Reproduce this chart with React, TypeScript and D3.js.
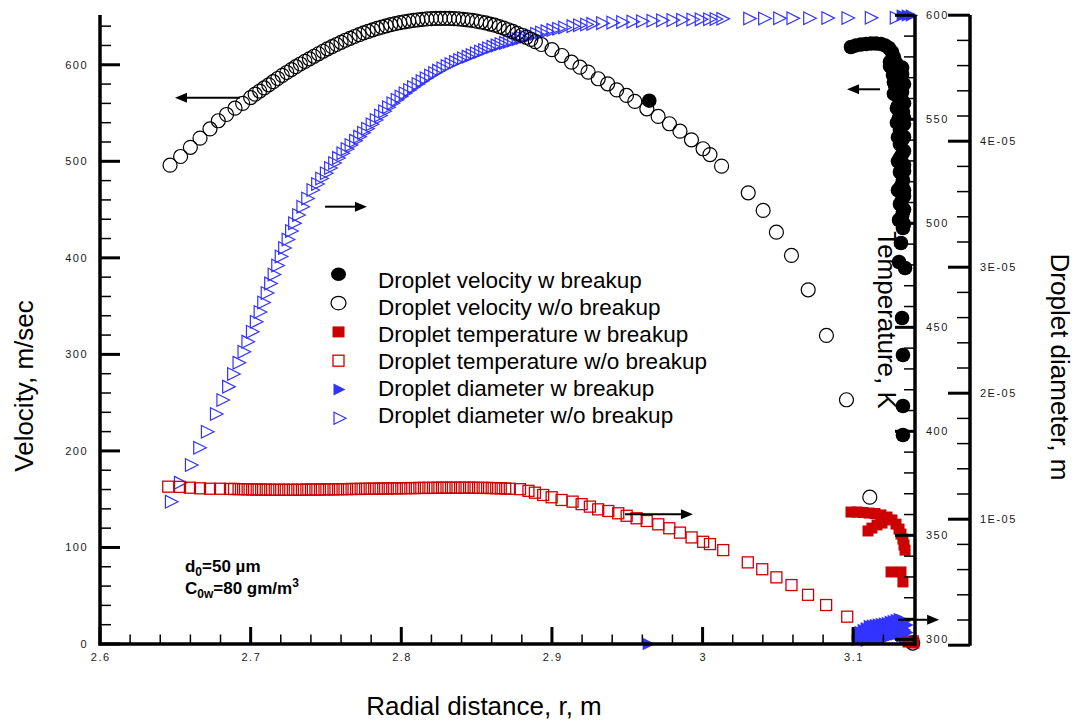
import React from 'react';
import * as d3 from 'd3';

// ---------- DATA ----------
// Droplet velocity w/o breakup: [r (m), velocity (m/s)]
const velNoBreak: [number, number][] = [
  [2.6465,496],[2.6535,505],[2.66,514.5],[2.6664,524],[2.673,533.5],[2.6785,542],[2.684,548.5],[2.6896,555],[2.6947,560],
  [2.7,566],[2.703,569.5],[2.706,572.8],[2.709,576],[2.712,579.2],[2.715,582.5],[2.718,585.8],[2.721,589],[2.724,592],[2.727,595],
  [2.73,598],[2.733,600.8],[2.736,603.5],[2.739,606.2],[2.742,608.8],[2.745,611.4],[2.748,614],[2.751,616.5],[2.754,618.8],[2.757,621],
  [2.76,623.3],[2.763,625.4],[2.766,627.4],[2.769,629.3],[2.772,631.2],[2.775,633],[2.778,634.6],[2.781,636.2],[2.784,637.6],[2.787,639],
  [2.79,640.3],[2.793,641.5],[2.796,642.6],[2.799,643.6],[2.802,644.5],[2.805,645.3],[2.808,646],[2.811,646.6],[2.814,647.1],[2.817,647.5],
  [2.82,647.8],[2.823,648],[2.826,648.1],[2.829,648.1],[2.832,648],[2.835,647.8],[2.838,647.5],[2.841,647.1],[2.844,646.6],[2.847,646],
  [2.85,645.2],[2.853,644.3],[2.856,643.3],[2.859,642.2],[2.862,641],[2.865,639.6],[2.868,638],[2.871,636.3],[2.874,634.5],[2.877,632.6],
  [2.88,630.6],[2.883,628.5],[2.886,626.3],[2.889,624],[2.893,621],[2.9,615.6],[2.9066,609.6],[2.913,602.7],[2.9186,597.5],[2.924,592.4],
  [2.9307,585.5],[2.937,580.3],[2.943,574],[2.9495,568.2],[2.955,562],[2.963,554.4],[2.9705,546.5],[2.978,538.9],[2.985,531.2],[2.9926,522.3],
  [3.0003,513],[3.0049,507],[3.0126,495],[3.0303,467.4],[3.0402,449.1],[3.049,426.6],[3.059,402.5],[3.0701,366.9],[3.0822,319.6],[3.0955,253],
  [3.111,152.1],[3.1395,1],
];

// Droplet velocity w breakup: [r, velocity]
const velBreak: [number, number][] = [
  [2.9646,562.8],
  [3.0985,618.4],[3.1018,620],[3.1051,621],[3.1085,621.5],[3.1118,622],[3.1151,622],[3.1184,621.5],[3.1211,620],[3.1237,617.4],
  [3.1257,613.2],[3.127,608],[3.1284,601.8],[3.1244,598.7],[3.129,594.6],[3.1264,589.4],[3.1304,586.3],[3.1277,579],[3.131,575.9],
  [3.129,568.7],[3.1323,563.5],[3.1297,557.3],[3.133,551.1],[3.1304,544.9],[3.1337,538.6],[3.131,532.4],[3.1337,525.2],[3.131,517.9],
  [3.1337,510.7],[3.131,503.4],[3.1337,496.2],[3.131,488.9],[3.133,480.6],[3.131,472.4],[3.1337,464.1],[3.131,455.8],[3.133,447.5],
  [3.1304,439.2],[3.133,430.9],[3.1317,415.4],[3.1304,395.7],[3.1344,389.5],[3.1324,337.7],[3.133,299.4],[3.133,246.5],[3.133,216.5],
  [3.1244,603],[3.1264,596],[3.127,582],[3.127,570],[3.129,555],[3.129,540],[3.1297,525],[3.1297,500],[3.1297,470],
  [3.1337,580],[3.1337,560],[3.1337,545],[3.1337,490],[3.1337,470],[3.1337,450],[3.1337,435],
  [3.1324,597],[3.1324,590],[3.1324,572],[3.1324,548],[3.1324,522],[3.1324,507],[3.1324,476],[3.1324,460],[3.1324,443],
];

// Droplet temperature w/o breakup: [r, T (K)]
const tempNoBreak: [number, number][] = [
  [2.6453,373.4],[2.6531,373.3],[2.6597,372.9],[2.6664,372.6],[2.673,372.4],[2.6797,372.4],[2.6863,372.3],
  [2.689,372.3],[2.692,372.2],[2.695,372.2],[2.698,372.1],[2.701,372.1],[2.704,372],[2.707,372],[2.71,372],[2.713,371.9],[2.716,371.9],
  [2.719,371.9],[2.722,371.9],[2.725,371.9],[2.728,371.9],[2.731,371.9],[2.734,371.9],[2.737,372],[2.74,372],[2.743,372],[2.746,372],
  [2.749,372.1],[2.752,372.1],[2.755,372.1],[2.758,372.2],[2.761,372.2],[2.764,372.2],[2.767,372.3],[2.77,372.3],[2.773,372.3],[2.776,372.4],
  [2.779,372.4],[2.782,372.4],[2.785,372.5],[2.788,372.5],[2.791,372.5],[2.794,372.6],[2.797,372.6],[2.8,372.6],[2.803,372.7],[2.806,372.7],
  [2.809,372.7],[2.812,372.8],[2.815,372.8],[2.818,372.8],[2.821,372.8],[2.824,372.9],[2.827,372.9],[2.83,372.9],[2.833,372.9],[2.836,372.9],
  [2.839,372.9],[2.842,372.9],[2.845,372.9],[2.848,372.9],[2.851,372.8],[2.854,372.8],[2.857,372.8],[2.86,372.7],[2.863,372.7],[2.866,372.6],
  [2.869,372.5],[2.872,372.4],[2.8788,372.2],[2.8844,371.4],[2.8887,370.5],[2.8942,369.4],[2.8998,368.3],[2.9064,367],[2.9137,366.2],
  [2.9197,365],[2.9252,363.8],[2.9307,362.5],[2.9374,361.7],[2.944,360.6],[2.9496,359.4],[2.9562,358.2],[2.9629,356.9],[2.9706,355.3],
  [2.9779,353.4],[2.985,351.3],[2.9927,349],[3.0004,346.9],[3.0049,345.8],[3.0137,342.9],[3.03,337],[3.0396,333.7],[3.049,329.8],
  [3.059,326.1],[3.07,321.4],[3.082,316.5],[3.096,310.9],[3.1395,299],
];

// Droplet temperature w breakup: [r, T]
const tempBreak: [number, number][] = [
  [3.0985,361.2],[3.1025,361.2],[3.1065,361],[3.1105,360.7],[3.1144,360.5],[3.1184,359.8],[3.1224,358.8],[3.1257,357.4],[3.1284,355.4],
  [3.1304,353],[3.1317,350.6],[3.133,348.2],[3.1337,345.3],[3.1344,342.9],
  [3.1098,352.1],[3.1124,353.5],[3.1158,355],[3.1191,355.9],
  [3.1251,332.4],[3.1317,332.4],[3.133,327.6],
  [3.1364,298.7],[3.1403,298.2],
];

// Droplet diameter w/o breakup: [r, d (µm)]
const diamNoBreak: [number, number][] = [
  [2.6476,11.39],[2.6536,12.9],[2.6609,14.3],[2.6664,15.67],[2.6715,16.94],[2.6775,18.35],[2.6818,19.46],[2.6856,20.52],[2.6889,21.52],
  [2.6925,22.42],[2.6958,23.29],[2.6984,24.09],[2.7014,24.88],[2.704,25.67],[2.7065,26.44],[2.7089,27.2],[2.7112,27.95],[2.7135,28.71],
  [2.7158,29.42],[2.7182,30.13],[2.7205,30.85],[2.7228,31.52],[2.7251,32.2],[2.7274,32.87],[2.7294,33.48],[2.7321,34.14],[2.7349,34.8],
  [2.7381,35.45],[2.7416,36.13],[2.7447,36.6],[2.7474,37.04],[2.7505,37.45],[2.7533,37.87],[2.756,38.27],[2.7586,38.67],[2.7615,39.04],
  [2.7643,39.38],[2.7669,39.7],[2.7699,40.04],[2.7726,40.36],[2.7752,40.67],[2.7779,40.99],[2.7809,41.34],[2.7836,41.68],[2.7865,42.04],
  [2.7892,42.37],[2.7918,42.69],[2.7947,43.01],[2.7975,43.29],[2.8001,43.55],[2.8028,43.8],[2.8058,44.06],[2.8084,44.3],[2.8114,44.54],
  [2.8141,44.78],[2.8168,44.99],[2.8197,45.21],[2.8224,45.41],[2.825,45.6],[2.8279,45.79],[2.8307,45.97],[2.8333,46.13],[2.8363,46.29],
  [2.839,46.44],[2.8416,46.58],[2.8446,46.71],[2.8473,46.84],[2.8501,46.98],[2.8529,47.11],[2.8556,47.24],[2.8582,47.37],[2.8611,47.5],
  [2.8639,47.6],[2.8665,47.71],[2.8695,47.8],[2.8722,47.9],[2.8748,48],[2.8778,48.1],[2.8804,48.2],[2.8832,48.29],[2.8868,48.41],
  [2.8901,48.52],[2.8934,48.62],[2.897,48.73],[2.9009,48.83],[2.9047,48.92],[2.9087,49.02],[2.9142,49.13],[2.9186,49.2],[2.9233,49.26],
  [2.9274,49.31],[2.9339,49.37],[2.9407,49.41],[2.9472,49.45],[2.954,49.49],[2.9604,49.52],[2.9673,49.56],[2.9737,49.59],[2.9806,49.61],
  [2.987,49.63],[2.9938,49.66],[2.9993,49.67],[3.0049,49.68],[3.0092,49.7],[3.0137,49.71],[3.0315,49.73],[3.0414,49.74],[3.0514,49.75],
  [3.0602,49.75],[3.0713,49.76],[3.0834,49.77],[3.0967,49.78],[3.1122,49.79],[3.1288,49.79],
];

// Droplet diameter w breakup: [r, d (µm)]
const diamBreak: [number, number][] = [
  [2.9644,0.1],
  [3.133,49.98],[3.1363,49.98],[3.139,49.98],
  [3.1031,0.89],[3.1031,0.41],[3.1071,1.21],[3.1071,0.65],[3.1111,1.52],[3.1111,0.97],[3.1111,0.49],
  [3.1151,1.6],[3.1151,1.05],[3.1151,0.49],[3.1191,1.68],[3.1191,1.13],[3.1191,0.57],[3.1231,1.76],[3.1231,1.21],[3.1231,0.65],
  [3.127,1.92],[3.127,1.37],[3.127,0.81],[3.131,2.08],[3.131,1.44],[3.131,0.89],[3.1344,1.92],[3.1344,1.21],[3.1344,0.57],
  [3.1051,1.05],[3.1051,0.5],[3.1091,1.35],[3.1091,0.8],[3.1091,0.35],[3.1131,1.56],[3.1131,1.0],[3.1131,0.45],
  [3.1171,1.64],[3.1171,1.1],[3.1171,0.5],[3.1211,1.72],[3.1211,1.17],[3.1211,0.6],[3.125,1.85],[3.125,1.3],[3.125,0.72],
  [3.129,2.0],[3.129,1.4],[3.129,0.85],[3.1327,2.0],[3.1327,1.3],[3.1327,0.7],[3.136,1.6],[3.136,1.0],[3.136,0.5],
];

// Axis ticks
const xMajor = [2.6, 2.7, 2.8, 2.9, 3.0, 3.1];
const xLabels = ['2.6', '2.7', '2.8', '2.9', '3', '3.1'];
const velMajor = [0, 100, 200, 300, 400, 500, 600];
const tempMajor = [300, 350, 400, 450, 500, 550, 600];
const diamMajor = [0, 10, 20, 30, 40, 50];
const diamLabels = ['', '1E-05', '2E-05', '3E-05', '4E-05', ''];

const legendLabels = [
  'Droplet velocity w breakup',
  'Droplet velocity w/o breakup',
  'Droplet temperature w breakup',
  'Droplet temperature w/o breakup',
  'Droplet diameter w breakup',
  'Droplet diameter w/o breakup',
];

// Arrows in (r, velocity) coordinates: [r1, r2, v]  (head at r2)
const arrows: [number, number, number][] = [
  [2.6929, 2.6498, 565.9],
  [2.7494, 2.7772, 453],
  [2.9485, 2.9936, 134.3],
  [3.1178, 3.0959, 574.6],
  [3.1297, 3.157, 25.1],
];

// ---------- CHART ----------
const W = 1076;
const H = 723;
const FONT = "'Liberation Sans', Arial, Helvetica, sans-serif";
const RED = '#cc0000';
const BLUE = '#3333ff';

const x = d3.scaleLinear().domain([2.6, 3.141]).range([100, 915]);
const yV = d3.scaleLinear().domain([0, 650]).range([644, 16.5]);
const yT = d3.scaleLinear().domain([298, 600]).range([643.5, 15.3]);
const yD = d3.scaleLinear().domain([0, 50]).range([645.2, 15.2]);

const triPath = (cx: number, cy: number, s = 6.3) =>
  `M${cx - s},${cy - s}L${cx + s},${cy}L${cx - s},${cy + s}Z`;

export default function App() {
  const xAxisY = yV(0);
  const leftX = x(2.6);
  const tempX = 915;
  const diamX = 970;
  const top = 15;

  const velMinor = d3.range(0, 641, 20).filter((v) => v % 100 !== 0);
  const xMinor = d3.range(0, 28).map((i) => 2.6 + i * 0.02).filter((_, i) => i % 5 !== 0);
  const tempMinor = d3.range(300, 601, 10).filter((v) => v % 50 !== 0);
  const diamMinor = d3.range(0, 51, 2).filter((v) => v % 10 !== 0);

  const tickText = { fontFamily: FONT, fontSize: 11, letterSpacing: 1.5, fill: '#1a1a1a' } as const;

  return (
    <svg width={W} height={H} style={{ position: 'absolute', left: 0, top: 0, background: '#fff' }}>
      <rect width={W} height={H} fill="#fff" />

      {/* diameter w/o breakup */}
      <g fill="none" stroke={BLUE} strokeWidth={1.2}>
        {diamNoBreak.map((d, i) => (
          <path key={i} d={triPath(x(d[0]), yD(d[1]))} />
        ))}
      </g>
      {/* temperature w/o breakup */}
      <g fill="none" stroke={RED} strokeWidth={1.3}>
        {tempNoBreak.map((d, i) => (
          <rect key={i} x={x(d[0]) - 5.5} y={yT(d[1]) - 5.5} width={11} height={11} />
        ))}
      </g>
      {/* velocity w/o breakup */}
      <g fill="none" stroke="#000" strokeWidth={1.2}>
        {velNoBreak.map((d, i) => (
          <circle key={i} cx={x(d[0])} cy={yV(d[1])} r={7} />
        ))}
      </g>
      {/* diameter w breakup */}
      <g fill={BLUE}>
        {diamBreak.map((d, i) => (
          <path key={i} d={triPath(x(d[0]), yD(d[1]))} />
        ))}
      </g>
      {/* temperature w breakup */}
      <g fill={RED}>
        {tempBreak.map((d, i) => (
          <rect key={i} x={x(d[0]) - 5.5} y={yT(d[1]) - 5.5} width={11} height={11} />
        ))}
      </g>
      {/* velocity w breakup */}
      <g fill="#000">
        {velBreak.map((d, i) => (
          <circle key={i} cx={x(d[0])} cy={yV(d[1])} r={7.3} />
        ))}
      </g>

      {/* left axis */}
      <g stroke="#000">
        <line x1={leftX} x2={leftX} y1={top} y2={xAxisY + 1.5} strokeWidth={3.5} />
        {velMajor.map((v) => (
          <line key={v} x1={leftX} x2={leftX + 20} y1={yV(v)} y2={yV(v)} strokeWidth={3} />
        ))}
        {velMinor.map((v) => (
          <line key={v} x1={leftX} x2={leftX + 11} y1={yV(v)} y2={yV(v)} strokeWidth={1.5} />
        ))}
      </g>
      <g {...tickText} textAnchor="end">
        {velMajor.map((v) => (
          <text key={v} x={88} y={yV(v)} dy="0.36em">{v}</text>
        ))}
      </g>

      {/* bottom axis */}
      <g stroke="#000">
        <line x1={leftX - 1.5} x2={tempX + 1.5} y1={xAxisY} y2={xAxisY} strokeWidth={3.5} />
        {xMajor.map((v) => (
          <line key={v} x1={x(v)} x2={x(v)} y1={xAxisY} y2={xAxisY - 17} strokeWidth={3} />
        ))}
        {xMinor.map((v) => (
          <line key={v} x1={x(v)} x2={x(v)} y1={xAxisY} y2={xAxisY - 9.5} strokeWidth={1.5} />
        ))}
      </g>
      <g {...tickText} textAnchor="middle">
        {xMajor.map((v, i) => (
          <text key={v} x={x(v) + 0.75} y={661}>{xLabels[i]}</text>
        ))}
      </g>

      {/* temperature axis */}
      <g stroke="#000">
        <line x1={tempX} x2={tempX} y1={top} y2={xAxisY + 1.5} strokeWidth={3.5} />
        {tempMajor.map((v) => (
          <line key={v} x1={tempX} x2={tempX - 20} y1={yT(v)} y2={yT(v)} strokeWidth={3} />
        ))}
        {tempMinor.map((v) => (
          <line key={v} x1={tempX} x2={tempX - 11} y1={yT(v)} y2={yT(v)} strokeWidth={1.5} />
        ))}
      </g>
      <g {...tickText} textAnchor="start">
        {tempMajor.map((v) => (
          <text key={v} x={926} y={yT(v)} dy="0.36em">{v}</text>
        ))}
      </g>

      {/* diameter axis */}
      <g stroke="#000">
        <line x1={diamX} x2={diamX} y1={top} y2={yD(0) + 0.5} strokeWidth={3.5} />
        {diamMajor.map((v) => (
          <line key={v} x1={diamX} x2={diamX - 22} y1={yD(v)} y2={yD(v)} strokeWidth={3} />
        ))}
        {diamMinor.map((v) => (
          <line key={v} x1={diamX} x2={diamX - 13} y1={yD(v)} y2={yD(v)} strokeWidth={1.5} />
        ))}
      </g>
      <g {...tickText} textAnchor="start">
        {diamMajor.map((v, i) => (
          <text key={v} x={980} y={yD(v)} dy="0.36em">{diamLabels[i]}</text>
        ))}
      </g>

      {/* axis titles */}
      <g fontFamily={FONT} fontSize={26} fill="#000">
        <text x={484} y={715} textAnchor="middle">Radial distance, r, m</text>
        <text transform="translate(33,386) rotate(-90)" textAnchor="middle">Velocity, m/sec</text>
        <text transform="translate(878,320) rotate(90)" textAnchor="middle">Temperature, K</text>
        <text transform="translate(1051,367) rotate(90)" textAnchor="middle">Droplet diameter, m</text>
      </g>

      {/* arrows */}
      <g>
        {arrows.map((a, i) => {
          const x1 = x(a[0]);
          const x2 = x(a[1]);
          const yy = yV(a[2]);
          const dir = x2 > x1 ? 1 : -1;
          const base = x2 - dir * 12;
          return (
            <g key={i}>
              <line x1={x1} x2={base} y1={yy} y2={yy} stroke="#000" strokeWidth={2} />
              <path d={`M${x2},${yy}L${base},${yy - 5}L${base},${yy + 5}Z`} fill="#000" />
            </g>
          );
        })}
      </g>

      {/* legend */}
      <g>
        {legendLabels.map((label, i) => {
          const sx = 338.5;
          const sy = 274.3 + 28.8 * i;
          let sym: React.ReactNode = null;
          if (i === 0) sym = <ellipse cx={sx} cy={sy} rx={7.5} ry={6.8} fill="#000" />;
          if (i === 1) sym = <ellipse cx={sx} cy={sy} rx={7.5} ry={6.8} fill="none" stroke="#000" strokeWidth={1.2} />;
          if (i === 2) sym = <rect x={sx - 6} y={sy - 5.5} width={12} height={11} fill={RED} />;
          if (i === 3) sym = <rect x={sx - 5.5} y={sy - 5.5} width={11} height={11} fill="none" stroke={RED} strokeWidth={1.3} />;
          if (i === 4) sym = <path d={triPath(sx + 1, sy, 6)} fill={BLUE} />;
          if (i === 5) sym = <path d={triPath(sx + 1.5, sy, 6)} fill="none" stroke={BLUE} strokeWidth={1.2} />;
          return (
            <g key={i}>
              {sym}
              <text x={378} y={288.3 + 27 * i} fontFamily={FONT} fontSize={22.5} fill="#000">{label}</text>
            </g>
          );
        })}
      </g>

      {/* annotation */}
      <g fontFamily={FONT} fontWeight="bold" fontSize={17} fill="#000">
        <text x={x(2.6564)} y={yV(74.6)}>
          d<tspan fontSize={12} dy={4}>0</tspan><tspan dy={-4}>=50 µm</tspan>
        </text>
        <text x={x(2.6564)} y={yV(52.3)}>
          C<tspan fontSize={12} dy={4}>0w</tspan><tspan dy={-4}>=80 gm/m</tspan><tspan fontSize={12} dy={-7}>3</tspan>
        </text>
      </g>
    </svg>
  );
}
